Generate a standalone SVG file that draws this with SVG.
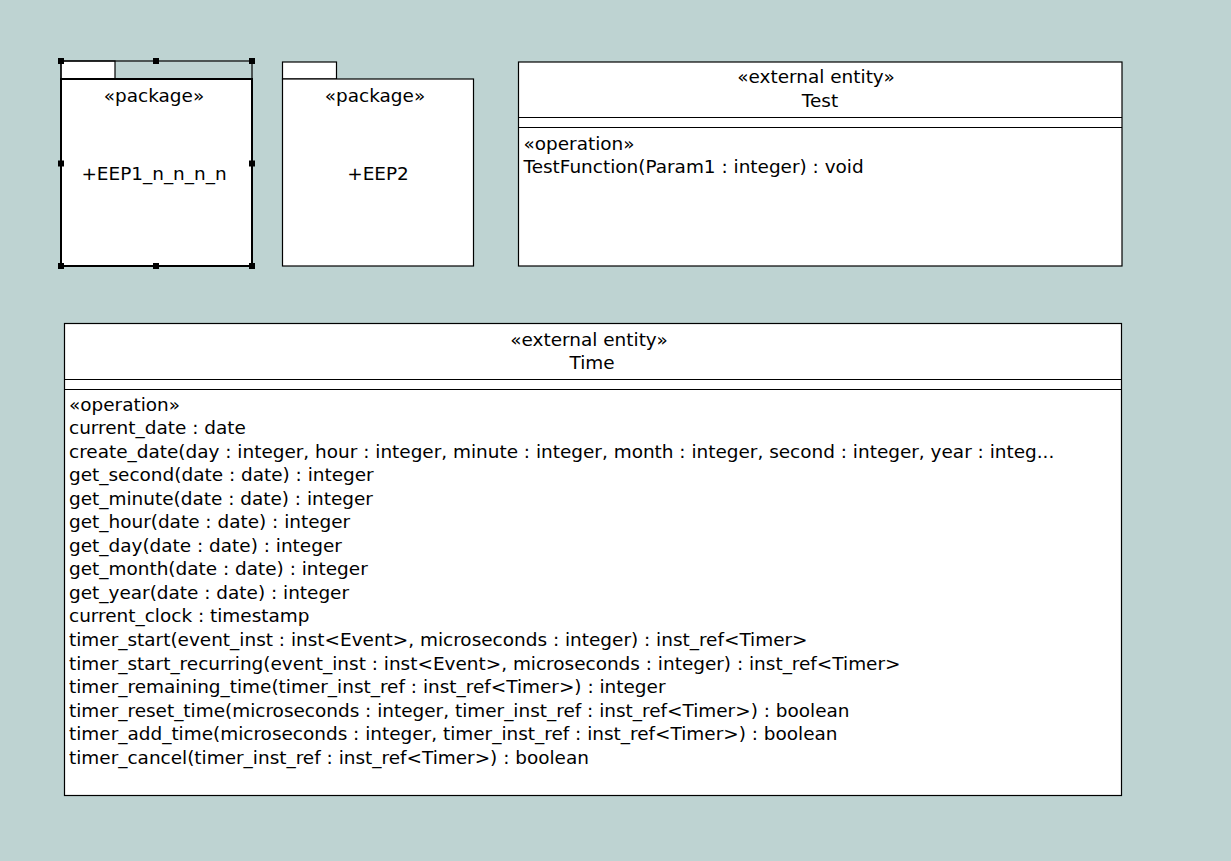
<svg xmlns="http://www.w3.org/2000/svg" width="1231" height="861" viewBox="0 0 1231 861">
<style>
.bg{fill:#bed3d2}
.box{fill:#ffffff;stroke:#000000;stroke-width:1.2}
.sel{fill:#ffffff;stroke:#000000;stroke-width:2}
.ln{stroke:#000000;stroke-width:1.2;fill:none}
.h{fill:#000000}
text{font-family:"DejaVu Sans","Liberation Sans",sans-serif;font-size:18.45px;fill:#000000}
.c{text-anchor:middle}
</style>
<rect class="bg" x="0" y="0" width="1231" height="861"/>
<g id="package-EEP1">
<rect class="box" x="61" y="61" width="54" height="18"/>
<rect class="ln" x="61" y="61" width="191" height="205"/>
<rect class="sel" x="61" y="79" width="191" height="187"/>
<text class="c" x="154" y="102">«package»</text>
<text class="c" x="154" y="180">+EEP1_n_n_n_n</text>
<rect class="h" x="58" y="58" width="6" height="6"/>
<rect class="h" x="153" y="58" width="6" height="6"/>
<rect class="h" x="249" y="58" width="6" height="6"/>
<rect class="h" x="58" y="160.5" width="6" height="6"/>
<rect class="h" x="249" y="160.5" width="6" height="6"/>
<rect class="h" x="58" y="263" width="6" height="6"/>
<rect class="h" x="153" y="263" width="6" height="6"/>
<rect class="h" x="249" y="263" width="6" height="6"/>
</g>
<g id="package-EEP2">
<rect class="box" x="282.5" y="62" width="54" height="17"/>
<rect class="box" x="282.5" y="79" width="191" height="187"/>
<text class="c" x="375" y="102">«package»</text>
<text class="c" x="378" y="180">+EEP2</text>
</g>
<g id="entity-Test">
<rect class="box" x="518.5" y="62" width="603.5" height="204"/>
<line class="ln" x1="518.5" y1="117.5" x2="1122" y2="117.5"/>
<line class="ln" x1="518.5" y1="127.5" x2="1122" y2="127.5"/>
<text class="c" x="816" y="83">«external entity»</text>
<text class="c" x="820" y="107">Test</text>
<text x="523.5" y="149.5">«operation»</text>
<text x="523.5" y="173">TestFunction(Param1 : integer) : void</text>
</g>
<g id="entity-Time">
<rect class="box" x="64.5" y="323.5" width="1057" height="472"/>
<line class="ln" x1="64.5" y1="379.5" x2="1121.5" y2="379.5"/>
<line class="ln" x1="64.5" y1="389.5" x2="1121.5" y2="389.5"/>
<text class="c" x="589" y="345.5">«external entity»</text>
<text class="c" x="592" y="368.5">Time</text>
<text x="69" y="410.5">«operation»</text>
<text x="69" y="434">current_date : date</text>
<text x="69" y="457.6">create_date(day : integer, hour : integer, minute : integer, month : integer, second : integer, year : integ...</text>
<text x="69" y="481.1">get_second(date : date) : integer</text>
<text x="69" y="504.7">get_minute(date : date) : integer</text>
<text x="69" y="528.2">get_hour(date : date) : integer</text>
<text x="69" y="551.8">get_day(date : date) : integer</text>
<text x="69" y="575.3">get_month(date : date) : integer</text>
<text x="69" y="598.9">get_year(date : date) : integer</text>
<text x="69" y="622.4">current_clock : timestamp</text>
<text x="69" y="646">timer_start(event_inst : inst&lt;Event&gt;, microseconds : integer) : inst_ref&lt;Timer&gt;</text>
<text x="69" y="669.5">timer_start_recurring(event_inst : inst&lt;Event&gt;, microseconds : integer) : inst_ref&lt;Timer&gt;</text>
<text x="69" y="693.1">timer_remaining_time(timer_inst_ref : inst_ref&lt;Timer&gt;) : integer</text>
<text x="69" y="716.6">timer_reset_time(microseconds : integer, timer_inst_ref : inst_ref&lt;Timer&gt;) : boolean</text>
<text x="69" y="740.2">timer_add_time(microseconds : integer, timer_inst_ref : inst_ref&lt;Timer&gt;) : boolean</text>
<text x="69" y="763.7">timer_cancel(timer_inst_ref : inst_ref&lt;Timer&gt;) : boolean</text>
</g>
<g id="connectors"></g>
</svg>
